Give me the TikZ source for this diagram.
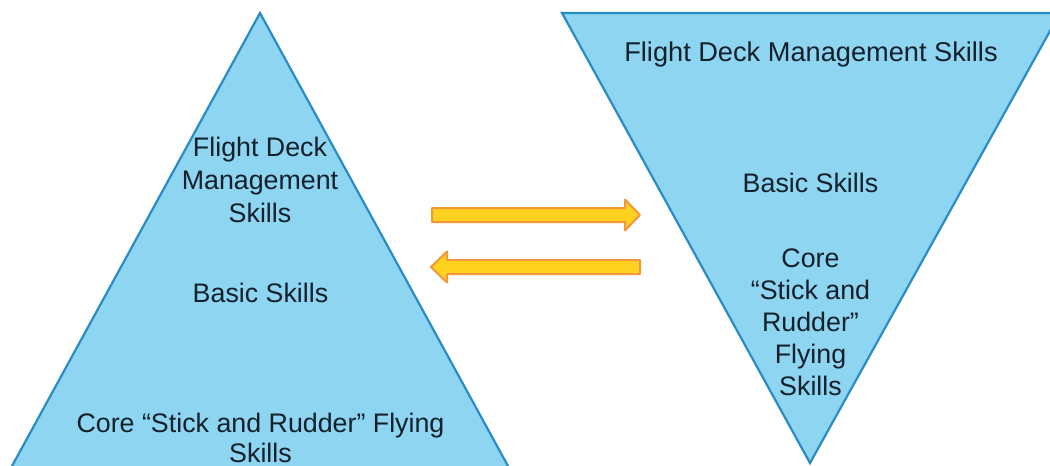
\documentclass[tikz,border=0pt]{standalone}
\usepackage{fontspec}
\setmainfont{Liberation Sans}
\definecolor{trifill}{HTML}{8DD5F0}
\definecolor{triedge}{HTML}{2A8CC4}
\definecolor{arrfill}{HTML}{FFD21F}
\definecolor{arredge}{HTML}{F2973A}
\definecolor{txt}{HTML}{14202B}
\begin{document}
\begin{tikzpicture}[x=1pt,y=-1pt,
  tri/.style={fill=trifill,draw=triedge,line width=2.2pt,line join=miter},
  blk/.style={fill=arrfill,draw=arredge,line width=2pt,line join=round},
  lbl/.style={text=txt,inner sep=0pt,anchor=base}]
\clip (0,0) rectangle (1050,466);
\fill[white] (0,0) rectangle (1050,466);
% left pyramid
\draw[tri] (260,13) -- (526.6,500) -- (-6.6,500) -- cycle;
% right inverted pyramid
\draw[tri] (562,13) -- (1060,13) -- (810,463) -- cycle;
% arrows
\draw[blk] (432,208) -- (625,208) -- (625,199.5) -- (640,215) -- (625,230.5) -- (625,222) -- (432,222) -- cycle;
\draw[blk] (640,260) -- (447,260) -- (447,251.5) -- (431,267) -- (447,282.5) -- (447,274) -- (640,274) -- cycle;
% left labels
\node[lbl] (lfd) at (260,156) {\fontsize{26.8}{33}\selectfont\begin{tabular}[t]{@{}c@{}}Flight Deck\\Management\\Skills\end{tabular}};
\node[lbl] (lbs) at (260.5,302) {\fontsize{26.8}{33}\selectfont Basic Skills};
\node[lbl] (lcore) at (260.5,432) {\fontsize{26.8}{30}\selectfont\vtop{\halign{\hfil#\hfil\cr Core “Stick and Rudder” Flying\cr Skills\cr}}};
% right labels
\node[lbl] (rfd) at (811,61) {\fontsize{27.2}{33}\selectfont Flight Deck Management Skills};
\node[lbl] (rbs) at (810.5,192) {\fontsize{26.8}{33}\selectfont Basic Skills};
\node[lbl] (rcore) at (810.5,267) {\fontsize{26.8}{32.2}\selectfont\begin{tabular}[t]{@{}c@{}}Core\\“Stick and\\Rudder”\\Flying\\Skills\end{tabular}};
\end{tikzpicture}
\end{document}
